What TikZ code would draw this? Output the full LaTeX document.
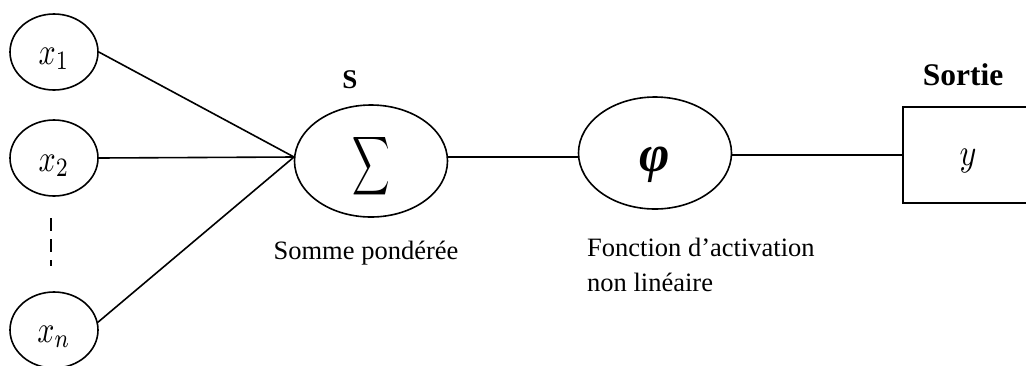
\documentclass[tikz,border=0pt]{standalone}
\usepackage{amsmath}
\usepackage{graphicx}
\usepackage{fontspec}
\setmainfont{Liberation Serif}
\usetikzlibrary{shapes.geometric}
\newcommand{\scmath}[3]{\raisebox{#3}[0pt][0pt]{\scalebox{3}[3.8]{$#1_{#2}$}}}
\tikzset{
  x=1pt, y=-1pt,
  inp/.style={draw, ellipse, line width=1.6pt, inner sep=0pt, minimum width=88pt, minimum height=76pt},
  unit/.style={draw, ellipse, line width=1.6pt, inner sep=0pt, minimum width=153pt, minimum height=112pt},
  conn/.style={line width=1.6pt},
  lbl/.style={font=\fontsize{26.5}{35}\selectfont, inner sep=0pt},
  bold/.style={font=\fontsize{27}{32}\selectfont\bfseries, inner sep=0pt},
}
\begin{document}
\begin{tikzpicture}
\useasboundingbox (0,0) rectangle (1026,365);
\node[inp] (x1) at (54,52) {\scmath{x}{1}{-12pt}};
\node[inp] (x2) at (54,158) {\scmath{x}{2}{-13pt}};
\node[inp] (xn) at (54,330) {\scmath{x}{n}{-12pt}};
\coordinate (d1) at (51,218);
\coordinate (d2) at (51,266);
\draw[line width=2.6pt, dash pattern=on 13pt off 8pt] (d1) -- (d2);
\coordinate (conv) at (294,157);
\node[unit] (sum) at (371,161) {\raisebox{-15pt}[0pt][0pt]{\scalebox{2.6}[4.1]{$\displaystyle\sum$}}};
\node[unit] (phi) at (655,153) {\raisebox{-18pt}[0pt][0pt]{\fontsize{52}{56}\selectfont\bfseries\itshape φ}};
\node[draw, line width=1.8pt, minimum width=130pt, minimum height=96pt, inner sep=0pt] (y) at (968,155) {\raisebox{-10pt}[0pt][0pt]{\scalebox{3.2}[3.8]{$y$}}};
\draw[conn] (x1.east) -- (conv);
\draw[conn] (x2.east) -- (conv);
\draw[conn] (xn.10) -- (conv);
\draw[conn] (sum.east |- 0,157) -- (phi.west |- 0,157);
\draw[conn] (phi.east |- 0,155) -- (y.west);
\node[bold] (S) at (350,80) {S};
\node[bold, font=\fontsize{31.5}{36}\selectfont\bfseries] (sortie) at (963,75) {Sortie};
\node[lbl] (somme) at (366,253) {Somme pondérée};
\node[lbl, anchor=north west, align=left] (fonc) at (587,238) {Fonction d’activation\\non linéaire};
\end{tikzpicture}
\end{document}
